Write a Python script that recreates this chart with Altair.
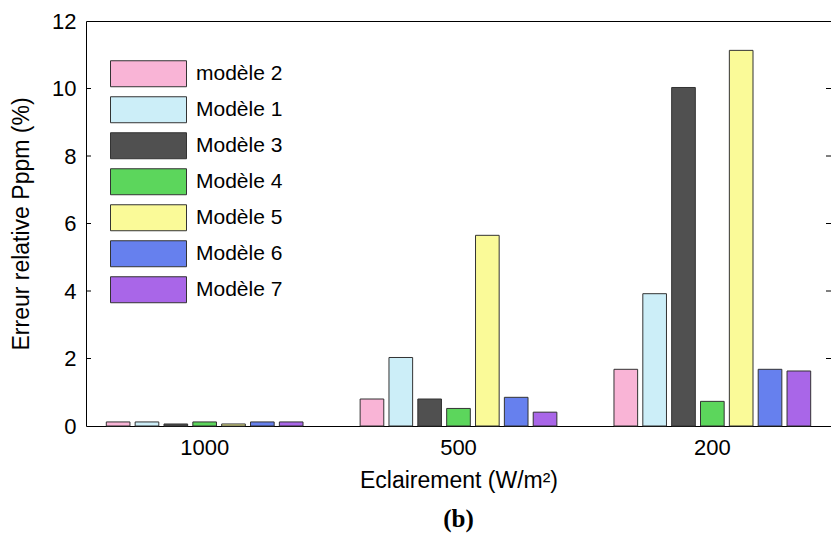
import altair as alt
import pandas as pd

categories = ["1000", "500", "200"]
models = ["modèle 2", "Modèle 1", "Modèle 3", "Modèle 4", "Modèle 5", "Modèle 6", "Modèle 7"]
m2 = [0.12, 0.80, 1.68]
m1 = [0.12, 2.03, 3.92]
m3 = [0.06, 0.80, 10.03]
m4 = [0.12, 0.52, 0.73]
m5 = [0.06, 5.65, 11.13]
m6 = [0.12, 0.85, 1.68]
m7 = [0.12, 0.41, 1.63]
colors = ["#F9B4D6", "#CCEEF8", "#505050", "#5CD65C", "#FAFA98", "#6680EE", "#A966E8"]
y_ticks = [0, 2, 4, 6, 8, 10, 12]

series = [m2, m1, m3, m4, m5, m6, m7]
rows = []
for name, vals in zip(models, series):
    for c, v in zip(categories, vals):
        rows.append({"cat": c, "model": name, "val": v})
df = pd.DataFrame(rows)

W, H = 745, 405
FONT = "Liberation Sans"

bars = alt.Chart(df).mark_bar(stroke="#333333", strokeWidth=1).encode(
    x=alt.X("cat:N", sort=categories,
            scale=alt.Scale(paddingInner=0.225, paddingOuter=0.08),
            axis=alt.Axis(title="Eclairement (W/m²)", labelAngle=0, ticks=False,
                          domain=False, labelFontSize=22, titleFontSize=23,
                          labelPadding=11, titlePadding=11, labelColor="#000",
                          titleColor="#000", titleFontWeight="normal",
                          labelFont=FONT, titleFont=FONT)),
    xOffset=alt.XOffset("model:N", sort=models, scale=alt.Scale(paddingInner=0.18)),
    y=alt.Y("val:Q", scale=alt.Scale(domain=[0, 12], nice=False),
            axis=alt.Axis(title="Erreur relative Pppm (%)", values=y_ticks, ticks=False,
                          domain=False, grid=False, labelFontSize=22, titleFontSize=23,
                          labelPadding=10, titlePadding=18, labelColor="#000",
                          titleColor="#000", titleFontWeight="normal",
                          labelFont=FONT, titleFont=FONT)),
    color=alt.Color("model:N", sort=models,
                    scale=alt.Scale(domain=models, range=colors),
                    legend=alt.Legend(title=None, orient="none", legendX=24, legendY=35,
                                      symbolType="M-1,-0.342L1,-0.342L1,0.342L-1,0.342Z",
                                      symbolSize=5776, symbolStrokeColor="#333333",
                                      symbolStrokeWidth=1, symbolOpacity=1,
                                      labelFontSize=21, labelFont=FONT,
                                      labelColor="#000", labelOffset=9,
                                      clipHeight=35.5, rowPadding=0, labelLimit=300)),
)

tick_df = pd.DataFrame({"t": y_ticks[1:-1]})
left_ticks = alt.Chart(tick_df).mark_rule(color="#000", strokeWidth=1).encode(
    y=alt.Y("t:Q"), x=alt.value(0), x2=alt.value(5))
right_ticks = alt.Chart(tick_df).mark_rule(color="#000", strokeWidth=1).encode(
    y=alt.Y("t:Q"), x=alt.value(W - 5), x2=alt.value(W))

chart = alt.layer(bars, left_ticks, right_ticks).properties(
    width=W, height=H,
    title=alt.TitleParams("(b)", orient="bottom", font="Liberation Serif",
                          fontWeight="bold", fontSize=25, offset=15, color="#000"),
    autosize=alt.AutoSizeParams(type="none"),
    padding={"left": 78, "top": 13, "right": 0, "bottom": 108},
).configure(background="white").configure_view(stroke="#000", strokeWidth=1)

chart.save("out.html", embed_options={"renderer": "svg", "actions": False})
